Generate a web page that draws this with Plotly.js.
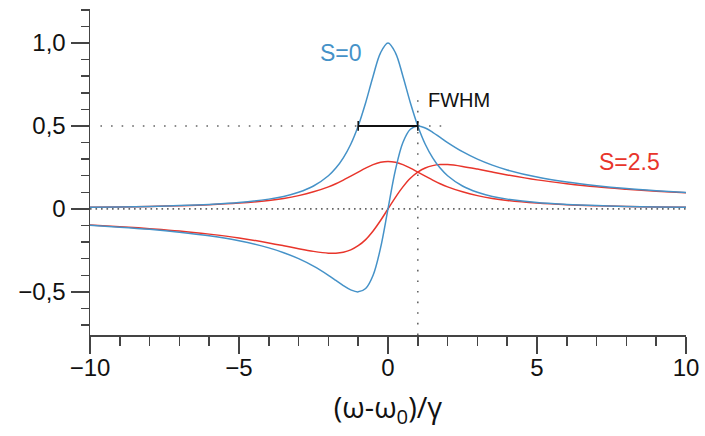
<!DOCTYPE html>
<html>
<head>
<meta charset="utf-8">
<script src="https://cdn.plot.ly/plotly-3.0.1.min.js"></script>
<style>
html,body{margin:0;padding:0;background:#fff;}
#chart{width:705px;height:436px;}
</style>
</head>
<body>
<div id="chart"></div>
<script>
// Detuning (ω-ω0)/γ
const xVals = [-10,-9,-8,-7,-6,-5,-4,-3.5,-3,-2.5,-2,-1.75,-1.5,-1.25,-1,-0.75,-0.5,-0.25,0,
               0.25,0.5,0.75,1,1.25,1.5,1.75,2,2.5,3,3.5,4,5,6,7,8,9,10];
// S=0 absorption (blue, peak)
const absS0 = [0.010,0.012,0.015,0.020,0.027,0.038,0.059,0.075,0.100,0.138,0.200,0.246,0.308,0.390,0.500,0.640,0.800,0.941,1.000,
               0.941,0.800,0.640,0.500,0.390,0.308,0.246,0.200,0.138,0.100,0.075,0.059,0.038,0.027,0.020,0.015,0.012,0.010];
// S=0 dispersion (blue)
const dispS0 = [-0.099,-0.110,-0.123,-0.140,-0.162,-0.192,-0.235,-0.264,-0.300,-0.345,-0.400,-0.431,-0.462,-0.488,-0.500,-0.480,-0.400,-0.235,0.000,
                0.235,0.400,0.480,0.500,0.488,0.462,0.431,0.400,0.345,0.300,0.264,0.235,0.192,0.162,0.140,0.123,0.110,0.099];
// S=2.5 absorption (red)
const absS25 = [0.010,0.012,0.015,0.019,0.025,0.035,0.051,0.063,0.080,0.103,0.133,0.152,0.174,0.198,0.222,0.246,0.267,0.281,0.286,
                0.281,0.267,0.246,0.222,0.198,0.174,0.152,0.133,0.103,0.080,0.063,0.051,0.035,0.025,0.019,0.015,0.012,0.010];
// S=2.5 dispersion (red)
const dispS25 = [-0.097,-0.107,-0.119,-0.133,-0.152,-0.175,-0.205,-0.222,-0.240,-0.256,-0.267,-0.267,-0.261,-0.247,-0.222,-0.185,-0.133,-0.070,0.000,
                 0.070,0.133,0.185,0.222,0.247,0.261,0.267,0.267,0.256,0.240,0.222,0.205,0.175,0.152,0.133,0.119,0.107,0.097];

const xTickVals = [-10,-5,0,5,10];
const xTickText = ["\u221210","\u22125","0","5","10"];
const yTickVals = [-0.5,0,0.5,1];
const yTickText = ["\u22120,5","0","0,5","1,0"];

const fwhmX = [-1, 1];
const fwhmY = [0.5, 0.5];

const blue = "#4592c8";
const red = "#e8352b";
const font = "Liberation Sans, Arial, Helvetica, sans-serif";
const titleFont = "Open Sans, DejaVu Sans, sans-serif";

const traces = [
  {x: xVals, y: dispS25, mode: "lines", line: {color: red, width: 1.5, shape: "spline"}, hoverinfo: "skip"},
  {x: xVals, y: absS25, mode: "lines", line: {color: red, width: 1.5, shape: "spline"}, hoverinfo: "skip"},
  {x: xVals, y: dispS0, mode: "lines", line: {color: blue, width: 1.5, shape: "spline"}, hoverinfo: "skip"},
  {x: xVals, y: absS0, mode: "lines", line: {color: blue, width: 1.5, shape: "spline"}, hoverinfo: "skip"},
  {x: fwhmX, y: fwhmY, mode: "lines+markers", line: {color: "#111", width: 2},
   marker: {symbol: "line-ns-open", size: 7, color: "#111", line: {color: "#111", width: 1.5}}, hoverinfo: "skip"}
];

const denseDot = {color: "#666", width: 1.6, dash: "1.6px,3.9px"};
const sparseDot = {color: "#666", width: 1.6, dash: "1.6px,9px"};
const layout = {
  width: 705, height: 436,
  margin: {l: 90, r: 19, t: 9, b: 101},
  paper_bgcolor: "#fff", plot_bgcolor: "#fff",
  showlegend: false,
  font: {family: font, color: "#111", size: 24},
  xaxis: {
    range: [-10, 10], showgrid: false, zeroline: false,
    showline: true, linecolor: "#444", linewidth: 1.5,
    ticks: "outside", ticklen: 17, tickwidth: 1.5, tickcolor: "#444",
    tickmode: "array", tickvals: xTickVals, ticktext: xTickText,
    tickfont: {size: 24, family: font, color: "#111"},
    ticklabelstandoff: -6,
    minor: {dtick: 1, tick0: 0, ticks: "outside", ticklen: 9, tickwidth: 1.5, tickcolor: "#444", showgrid: false},
    title: {text: "(\u03c9-\u03c9<sub>0</sub>)/\u03b3", font: {size: 29, family: titleFont, color: "#111"}, standoff: 17}
  },
  yaxis: {
    range: [-0.76, 1.205], showgrid: false, zeroline: false,
    showline: true, linecolor: "#444", linewidth: 1.5,
    ticks: "outside", ticklen: 18, tickwidth: 1.5, tickcolor: "#444",
    tickmode: "array", tickvals: yTickVals, ticktext: yTickText,
    tickfont: {size: 24, family: font, color: "#111"},
    minor: {dtick: 0.1, tick0: 0, ticks: "outside", ticklen: 8, tickwidth: 1.5, tickcolor: "#444", showgrid: false}
  },
  shapes: [
    {type: "line", xref: "x", yref: "y", x0: -10, x1: 10, y0: 0, y1: 0, line: denseDot, layer: "below"},
    {type: "line", xref: "x", yref: "y", x0: -9.65, x1: 1.85, y0: 0.5, y1: 0.5, line: sparseDot, layer: "below"},
    {type: "line", xref: "x", yref: "y", x0: 1, x1: 1, y0: -0.76, y1: 0.67, line: sparseDot, layer: "below"}
  ],
  annotations: [
    {x: -1.59, y: 0.937, xref: "x", yref: "y", text: "S=0", showarrow: false, xanchor: "center", yanchor: "middle",
     font: {size: 23, color: blue, family: font}},
    {x: 8.12, y: 0.28, xref: "x", yref: "y", text: "S=2.5", showarrow: false, xanchor: "center", yanchor: "middle",
     font: {size: 23, color: red, family: font}},
    {x: 2.38, y: 0.657, xref: "x", yref: "y", text: "FWHM", showarrow: false, xanchor: "center", yanchor: "middle",
     font: {size: 20, color: "#111", family: font}}
  ]
};

Plotly.newPlot("chart", traces, layout, {staticPlot: true, displayModeBar: false});
</script>
</body>
</html>
